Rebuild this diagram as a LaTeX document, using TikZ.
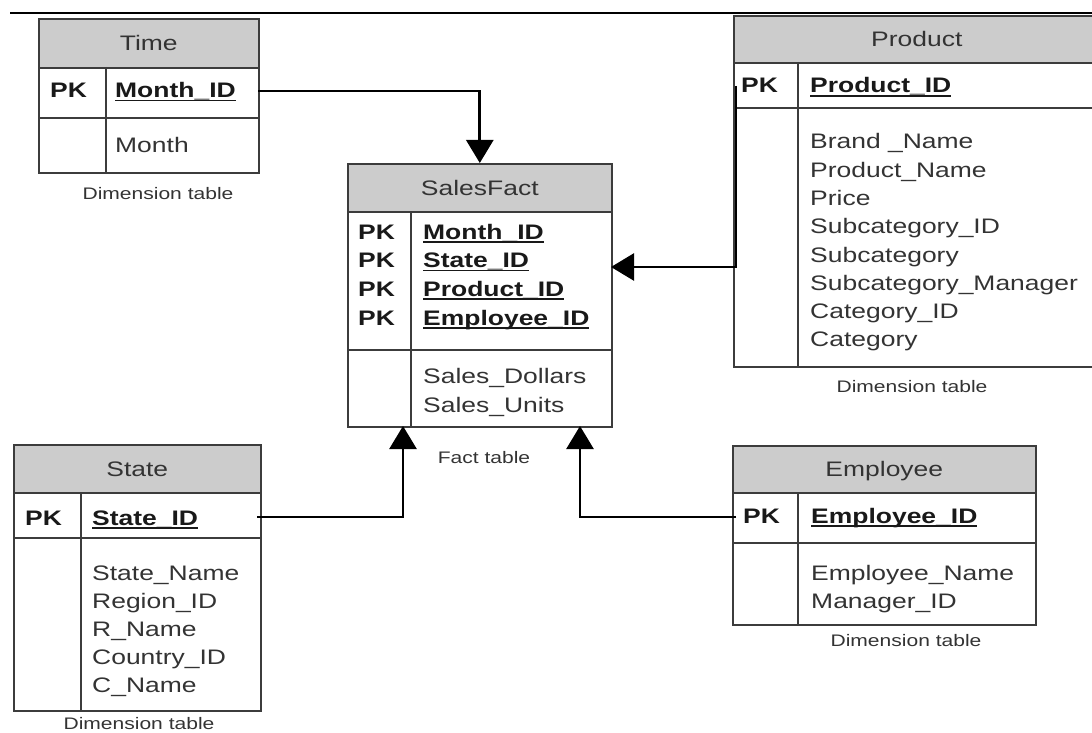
\documentclass[tikz,border=0pt]{standalone}
\usepackage{fontspec}
\setmainfont{Liberation Sans}[FakeStretch=1.26]
\usetikzlibrary{arrows.meta}

\definecolor{edgegray}{HTML}{3C3C3C}
\definecolor{hdrgray}{HTML}{CCCCCC}
\definecolor{txtgray}{HTML}{333333}

\newcommand\tabfont{\fontsize{21}{25}\selectfont}
\newcommand\capfont{\fontsize{16.7}{20}\selectfont}
% key column entry: bold text with a rule under it
\newcommand\keyline[1]{\vtop{\hbox{\raisebox{0pt}[\height][0pt]{#1}}\kern2.2pt\hrule height 1.5pt}}

\begin{document}
\begin{tikzpicture}[x=1pt,y=-1pt,
  hdr/.style={draw=edgegray, fill=hdrgray, line width=1.6pt, anchor=north west,
    inner sep=0pt, text height=15pt, text depth=0pt, text=txtgray, font=\tabfont},
  body/.style={draw=edgegray, line width=1.6pt, anchor=north west, inner sep=0pt},
  rule/.style={draw=edgegray, line width=1.6pt},
  pk/.style={anchor=base west, inner sep=0pt, font=\tabfont\bfseries, text=black!90},
  attr/.style={anchor=base west, inner sep=0pt, font=\tabfont, text=txtgray},
  tcap/.style={anchor=base, inner sep=0pt, font=\capfont, text=txtgray},
  link/.style={line width=2.7pt, black, -{Triangle[width=27pt,length=23pt]}}
]
\useasboundingbox (0,0) rectangle (1092,733);
\clip (0,0) rectangle (1092,733);

% rule across the top
\draw[line width=1.8pt] (10,13) -- (1092,13);

% ---------------- Time ----------------
\node[hdr, minimum width=220pt, minimum height=49pt] (timeH) at (38,18) {Time};
\node[body, minimum width=220pt, minimum height=105pt] (timeB) at (38,67) {};
\draw[rule] (38,118) -- (258,118);
\draw[rule] (106,67) -- (106,172);
\node[pk] (timePK) at (50,97.5) {PK};
\node[pk] (timeKey) at (115,97.5) {\keyline{Month\_ID}};
\node[attr] (timeA1) at (115,153) {Month};
\node[tcap] (timeCap) at (158,199) {Dimension table};
\coordinate (timeOut) at (258,91);

% ---------------- SalesFact ----------------
\node[hdr, minimum width=264pt, minimum height=48pt] (sfH) at (347,163) {SalesFact};
\node[body, minimum width=264pt, minimum height=215pt] (sfB) at (347,211) {};
\draw[rule] (347,350) -- (611,350);
\draw[rule] (411,211) -- (411,426);
\foreach \k/\y/\t in {1/239/Month\_ID, 2/267.5/State\_ID, 3/296/Product\_ID, 4/325/Employee\_ID}{
  \node[pk] (sfPK\k) at (358,\y) {PK};
  \node[pk] (sfKey\k) at (423,\y) {\keyline{\t}};
}
\node[attr] (sfA1) at (423,383) {Sales\_Dollars};
\node[attr] (sfA2) at (423,412) {Sales\_Units};
\node[tcap] (sfCap) at (484,463) {Fact table};
\coordinate (sfInP) at (611,267);
\coordinate (sfInS) at (403,426);
\coordinate (sfInE) at (580,426);

% ---------------- Product ----------------
\node[hdr, minimum width=366pt, minimum height=47pt] (prodH) at (733,15) {Product};
\node[body, minimum width=366pt, minimum height=304pt] (prodB) at (733,62) {};
\draw[rule] (733,108) -- (1099,108);
\draw[rule] (798,62) -- (798,366);
\node[pk] (prodPK) at (741,93) {PK};
\node[pk] (prodKey) at (810,93) {\keyline{Product\_ID}};
\foreach \i/\t in {0/Brand \_Name, 1/Product\_Name, 2/Price, 3/Subcategory\_ID,
                   4/Subcategory, 5/Subcategory\_Manager, 6/Category\_ID, 7/Category}{
  \node[attr] (prodA\i) at (810,148.8+28.3*\i) {\t};
}
\node[tcap] (prodCap) at (912,392) {Dimension table};
\coordinate (prodOut) at (736,86);

% ---------------- State ----------------
\node[hdr, minimum width=247pt, minimum height=48pt] (stH) at (13,444) {State};
\node[body, minimum width=247pt, minimum height=218pt] (stB) at (13,492) {};
\draw[rule] (13,538) -- (260,538);
\draw[rule] (81,492) -- (81,710);
\node[pk] (stPK) at (25,525) {PK};
\node[pk] (stKey) at (92,525) {\keyline{State\_ID}};
\foreach \i/\t in {0/State\_Name, 1/Region\_ID, 2/R\_Name, 3/Country\_ID, 4/C\_Name}{
  \node[attr] (stA\i) at (92,580+28*\i) {\t};
}
\node[tcap] (stCap) at (139,729) {Dimension table};
\coordinate (stOut) at (257,517);

% ---------------- Employee ----------------
\node[hdr, minimum width=303pt, minimum height=47pt] (emH) at (732,445) {Employee};
\node[body, minimum width=303pt, minimum height=132pt] (emB) at (732,492) {};
\draw[rule] (732,543) -- (1035,543);
\draw[rule] (798,492) -- (798,624);
\node[pk] (emPK) at (743,523) {PK};
\node[pk] (emKey) at (811,523) {\keyline{Employee\_ID}};
\node[attr] (emA0) at (811,580) {Employee\_Name};
\node[attr] (emA1) at (811,608) {Manager\_ID};
\node[tcap] (emCap) at (906,646) {Dimension table};
\coordinate (emOut) at (736,517);

% ---------------- connectors ----------------
\draw[link] (timeOut) -| (sfH.north);
\draw[link] (prodOut) |- (sfInP);
\draw[link] (stOut) -| (sfInS);
\draw[link] (emOut) -| (sfInE);
\end{tikzpicture}
\end{document}
